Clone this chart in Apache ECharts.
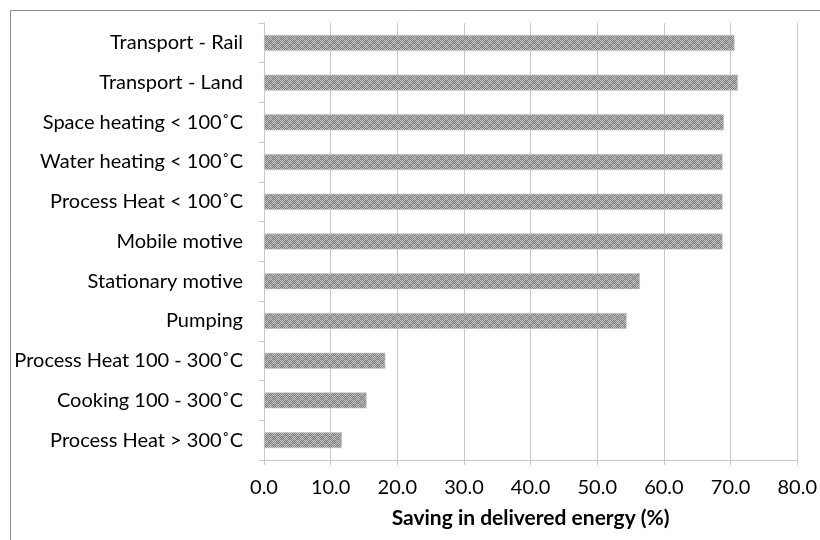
<!DOCTYPE html>
<html><head><meta charset="utf-8">
<script src="https://cdn.jsdelivr.net/npm/echarts@6/dist/echarts.min.js"></script>
<style>html,body{margin:0;padding:0;background:#fff}#c{width:820px;height:540px}</style>
</head><body><div id="c"></div>
<script>
const categories = ["Transport - Rail","Transport - Land","Space heating < 100˚C","Water heating < 100˚C","Process Heat < 100˚C","Mobile motive","Stationary motive","Pumping","Process Heat 100 - 300˚C","Cooking 100 - 300˚C","Process Heat > 300˚C"];
const savings = [70.6, 71.1, 69.0, 68.8, 68.8, 68.8, 56.4, 54.4, 18.2, 15.4, 11.7];
const xTicks = {min: 0, max: 80, interval: 10};
const xTitle = "Saving in delivered energy (%)";

const pc = document.createElement('canvas');
pc.width = 8; pc.height = 8;
const g = pc.getContext('2d');
for (let y = 0; y < 8; y++) for (let x = 0; x < 8; x++) {
  const light = (x + y) % 2 === 0;
  const block = ((x >> 2) + (y >> 2)) % 2 === 0;
  g.fillStyle = light ? (block ? '#c4c4c4' : '#b4b4b4') : (block ? '#8a8a8a' : '#7a7a7a');
  g.fillRect(x, y, 1, 1);
}

const chart = echarts.init(document.getElementById('c'), null, {renderer: 'canvas'});
const font = 'Lato, "Open Sans", sans-serif';
chart.setOption({
  animation: false,
  graphic: [{type: 'rect', shape: {x: 10.5, y: 10.5, width: 830, height: 560}, style: {fill: 'none', stroke: '#8c8c8c', lineWidth: 1}, silent: true}],
  grid: {left: 264, right: 22, top: 23, bottom: 80, containLabel: false},
  xAxis: {
    type: 'value', min: xTicks.min, max: xTicks.max, interval: xTicks.interval,
    name: xTitle, nameLocation: 'middle', nameGap: 48,
    nameTextStyle: {fontFamily: font, fontSize: 21, fontWeight: 'bold', color: '#000'},
    axisLine: {show: true, lineStyle: {color: '#c8c8c8'}},
    axisTick: {show: true, length: 5, lineStyle: {color: '#c8c8c8'}},
    axisLabel: {fontFamily: font, fontSize: 20, color: '#000', margin: 18, formatter: v => v.toFixed(1)},
    splitLine: {show: true, lineStyle: {color: '#c8c8c8'}}
  },
  yAxis: {
    type: 'category', data: categories, inverse: true,
    axisLine: {show: true, lineStyle: {color: '#c8c8c8'}},
    axisTick: {show: true, length: 5, alignWithLabel: false, lineStyle: {color: '#c8c8c8'}},
    axisLabel: {fontFamily: font, fontSize: 20, color: '#000', margin: 21}
  },
  series: [{
    type: 'bar', data: savings, barWidth: 16,
    itemStyle: {color: {image: pc, repeat: 'repeat'}, borderColor: '#c8c8c8', borderWidth: 0.6}
  }]
});
</script></body></html>
